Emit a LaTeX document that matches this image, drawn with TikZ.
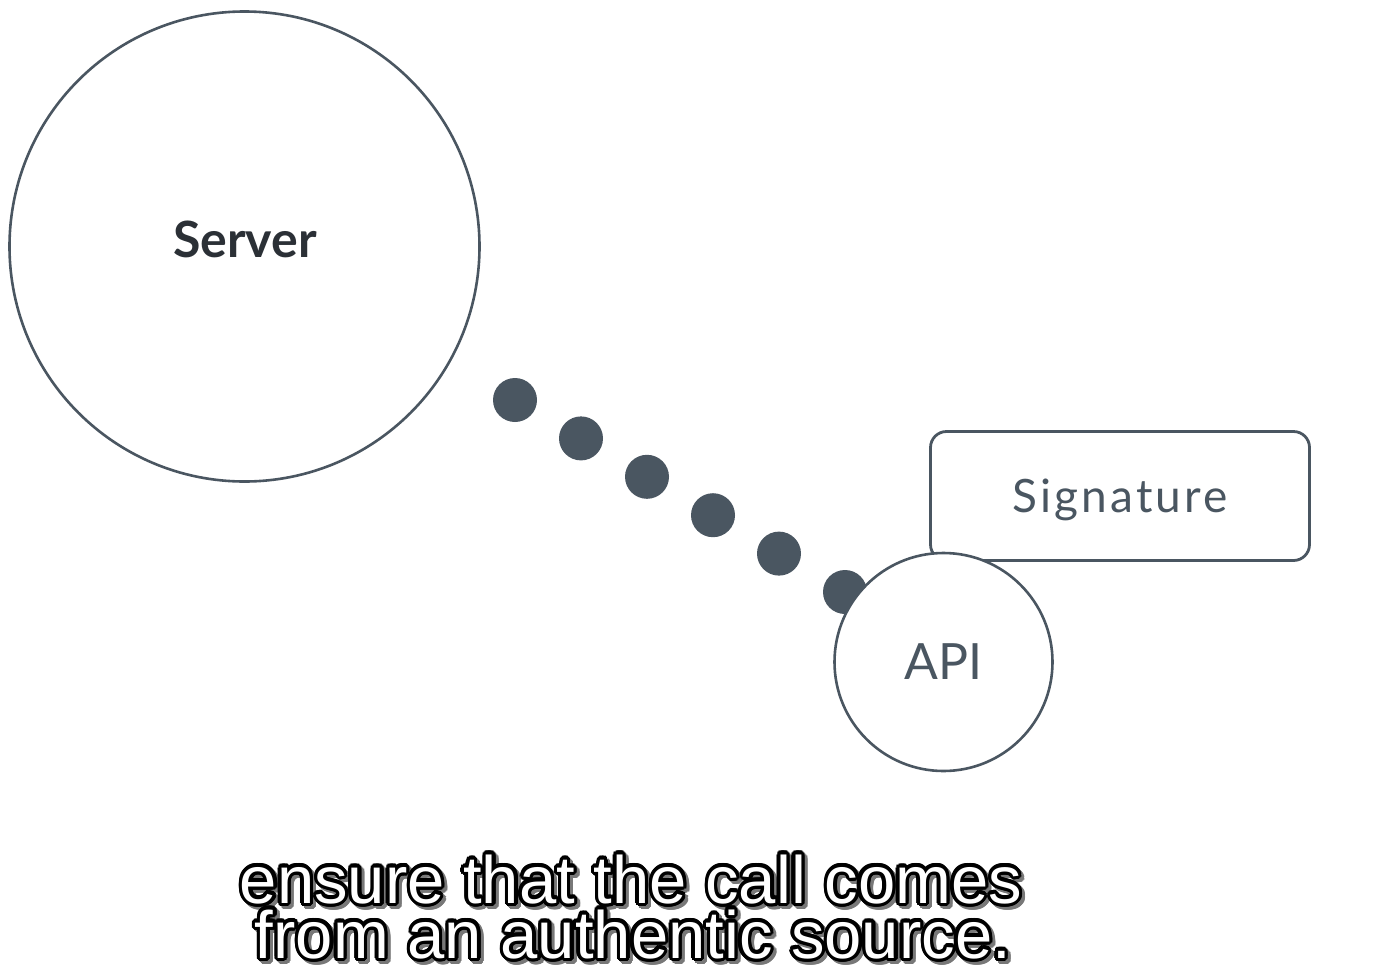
\documentclass[tikz,border=0pt]{standalone}
\usepackage{fontspec}
\setmainfont{Lato}
\newfontfamily\subfont{Liberation Sans}
\newfontfamily\widefont[LetterSpace=7]{Lato}
\usetikzlibrary{positioning}

\definecolor{slate}{RGB}{74,86,97}
\definecolor{ink}{RGB}{43,48,54}
\definecolor{shade}{RGB}{120,120,120}

% outlined subtitle line: shadow, black rim, white face
\newcommand{\subline}[4]{%
\foreach \ang in {0,22.5,...,337.5} {
\node[/subtxt, text=shade, shift={(\ang:3.4)}, xshift=3pt, yshift=-3pt] at (#2,#3) {#4};
}
\foreach \ang in {0,22.5,...,337.5} {
\node[/subtxt, text=black, shift={(\ang:3.4)}] at (#2,#3) {#4};
}
\node[/subtxt, text=white] (#1) at (#2,#3) {#4};
}

\begin{document}
\begin{tikzpicture}[x=1pt,y=-1pt]

% canvas
\fill[white] (0,0) rectangle (1390,967);
\useasboundingbox (0,0) rectangle (1390,967);

% styles
\pgfkeys{/ring/.style={draw=slate, line width=2.6pt, circle, inner sep=0pt, fill=white}} % round parts
\pgfkeys{/dot/.style={fill=slate, circle, inner sep=0pt, minimum size=44pt}} % dotted link
\pgfkeys{/tag/.style={draw=slate, line width=2.8pt, rounded corners=16pt, fill=white, text=slate}} % boxes
\pgfkeys{/subtxt/.style={anchor=base, inner sep=0pt, font=\subfont\fontsize{67}{67}\selectfont}} % caption

% server
\node[/ring, minimum size=470pt] (server) at (244.5,246.5) {};
\node[anchor=base, text=ink, font=\bfseries\fontsize{50}{50}\selectfont] (servertext) at (245,257) {Server};

% link of dots
\foreach \i in {0,...,5} {
\node[/dot] (dot\i) at ({515+66*\i},{400+38.4*\i}) {};
}

% signature and api
\node[/tag, minimum width=379pt, minimum height=129pt, text depth=0pt, font=\widefont\fontsize{46}{46}\selectfont] (sig) at (1120,496) {Signature};
\node[/ring, minimum size=218pt, text=slate, text depth=0pt, font=\fontsize{50}{50}\selectfont] (api) at (943.5,662) {API};

% caption
\subline{sub1}{631}{903}{ensure that the call comes}
\subline{sub2}{633}{958}{from an authentic source.}

\end{tikzpicture}
\end{document}
